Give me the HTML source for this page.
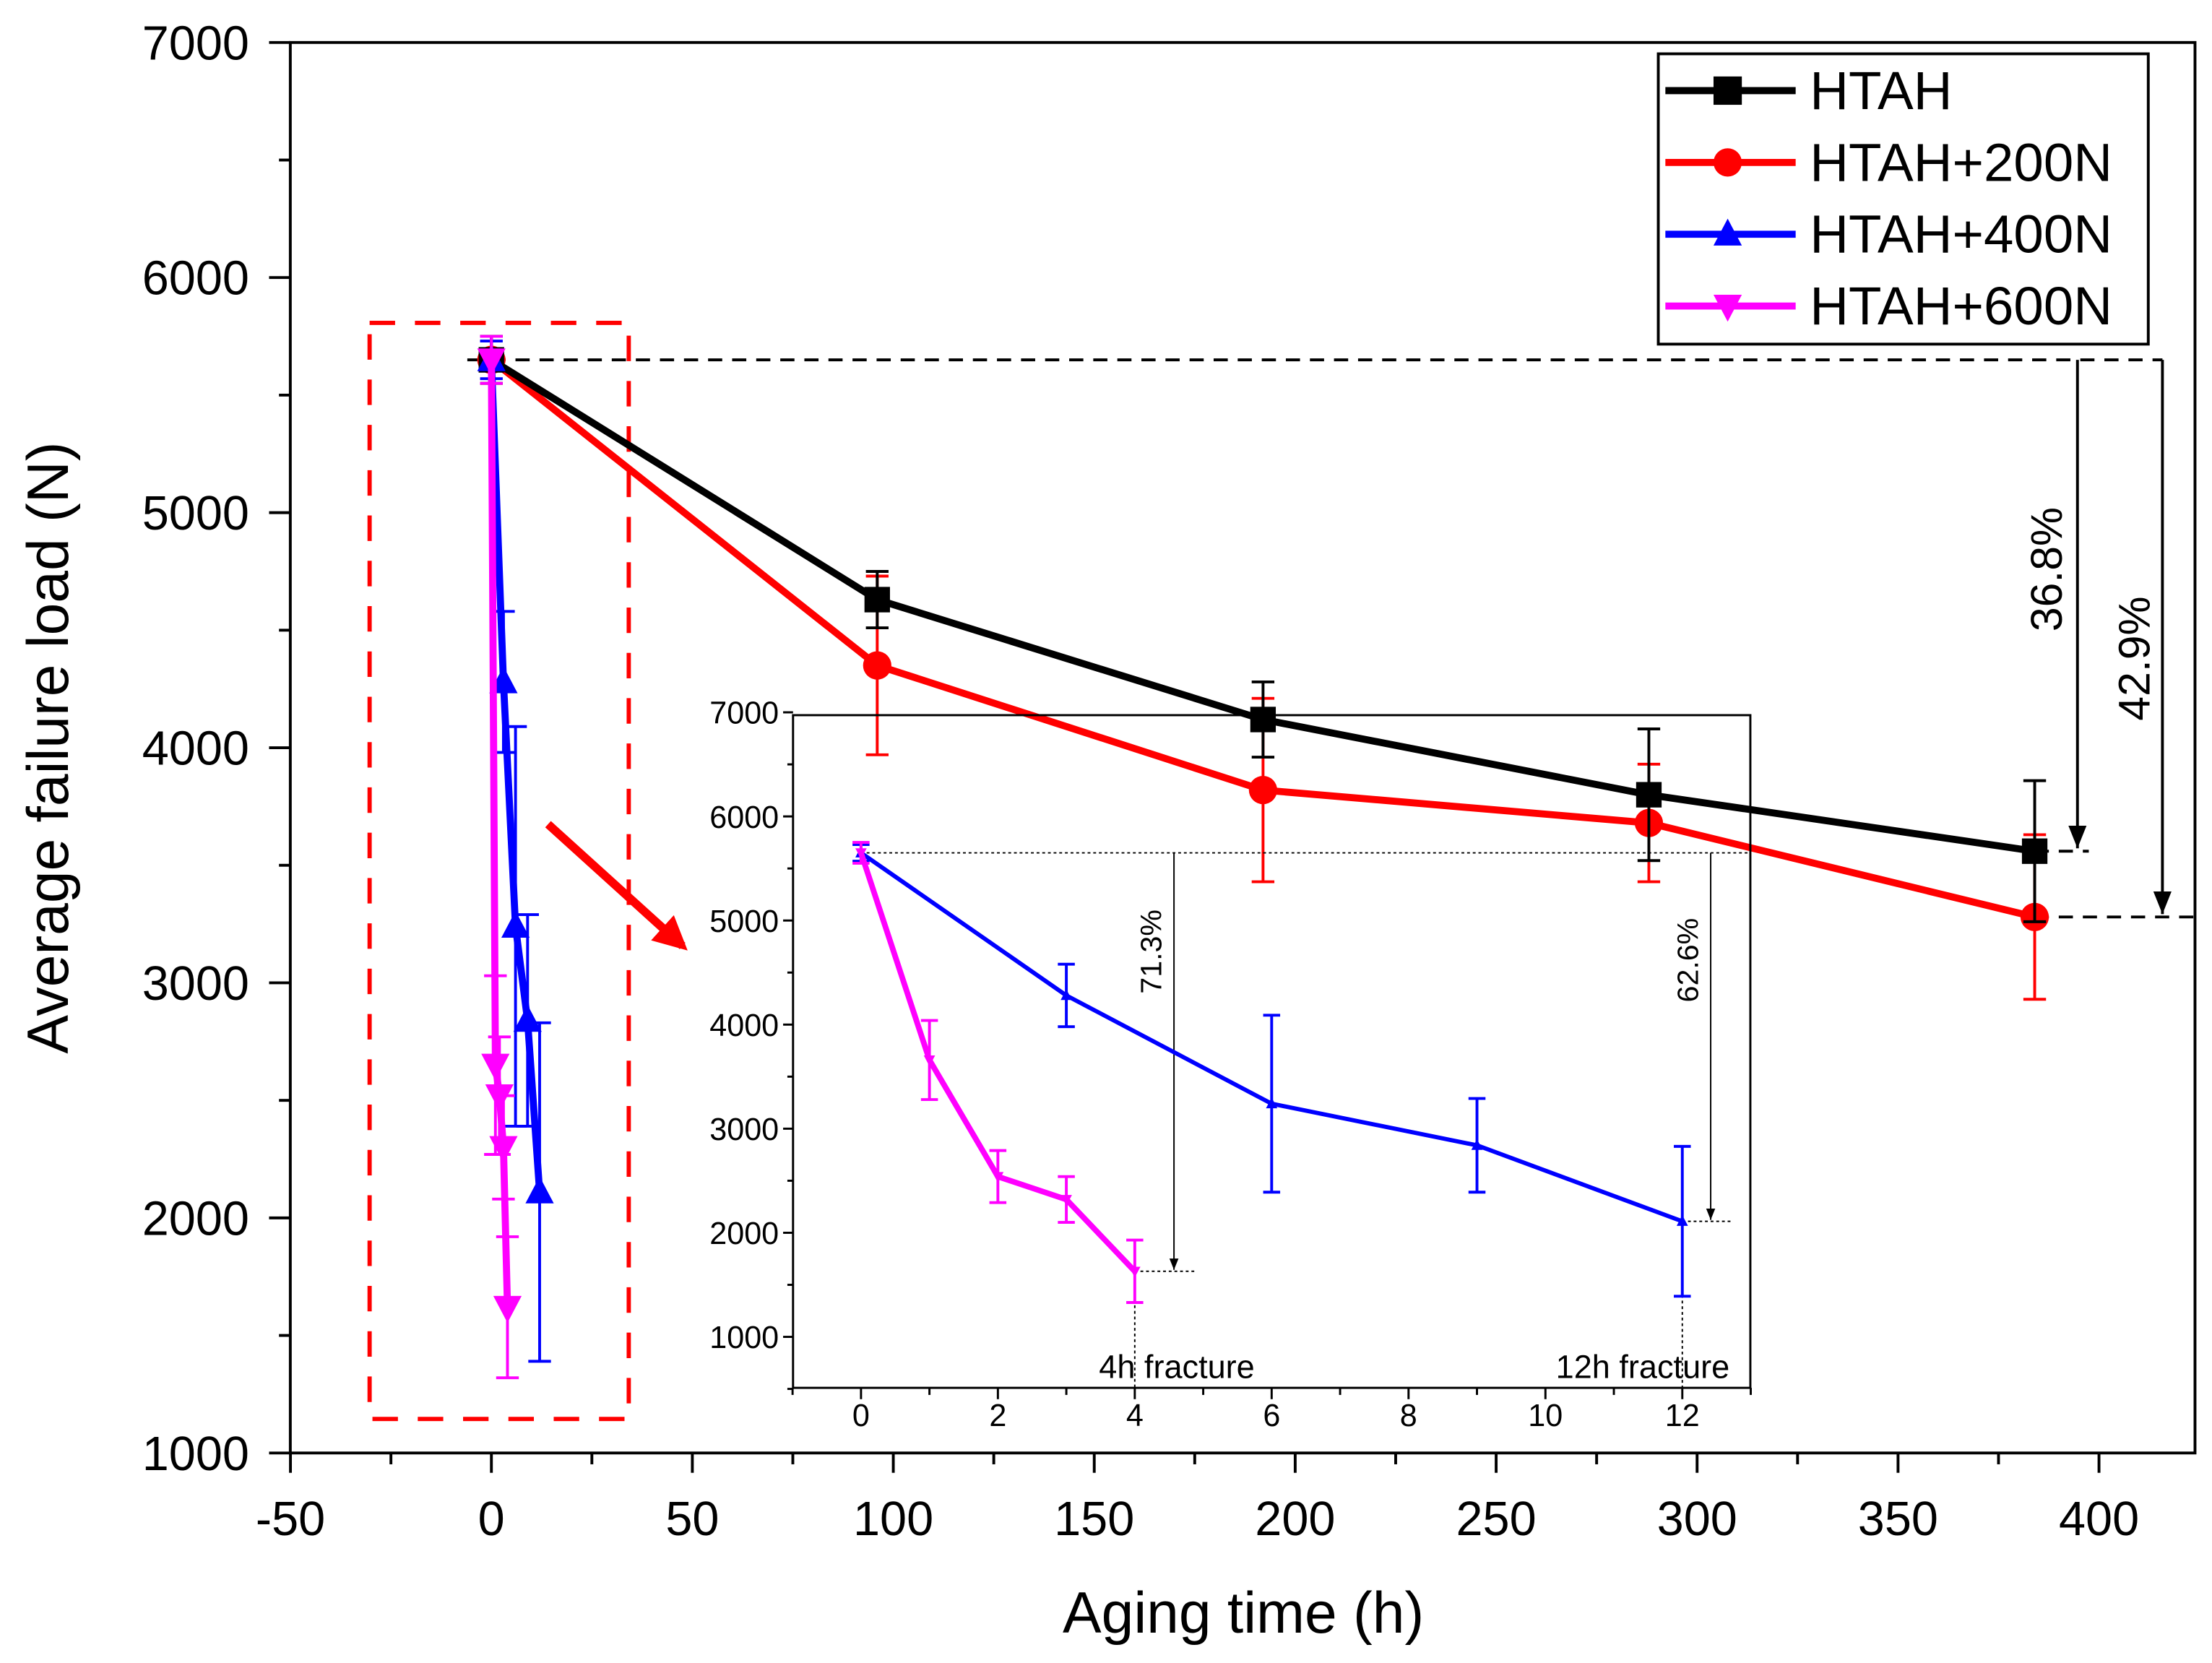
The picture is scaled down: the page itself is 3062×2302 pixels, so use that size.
<!DOCTYPE html>
<html><head><meta charset="utf-8"><style>
html,body{margin:0;padding:0;background:#fff}
svg{display:block}
text{font-family:"Liberation Sans",Arial,sans-serif}
</style></head><body>
<svg id="chart" width="3062" height="2302" viewBox="0 0 1562 1174.3" preserveAspectRatio="none" xmlns="http://www.w3.org/2000/svg">
<defs>
<marker id="ah" viewBox="0 0 10 10" refX="10" refY="5" markerWidth="8" markerHeight="8" orient="auto"><path d="M0,1 L10,5 L0,9 z" fill="#000"/></marker>
<marker id="ahr" viewBox="0 0 10 10" refX="8" refY="5" markerWidth="4" markerHeight="4" orient="auto"><path d="M0,0 L10,5 L0,10 z" fill="#f00"/></marker>
</defs>
<g id="main"></g>
<g id="inset"></g>
</svg>
<script>
const ns="http://www.w3.org/2000/svg";
// ---- data ----
const hours=[0,96,192,288,384];
const htah=[5650,4630,4120,3800,3560];
const htahErr=[100,120,160,280,300];
const h200=[5650,4350,3820,3680,3280];
const h200Err=[100,380,390,250,350];
const hours400=[0,3,6,9,12];
const h400=[5650,4280,3240,2840,2110];
const h400Err=[80,300,850,450,720];
const hours600=[0,1,2,3,4];
const h600Main=[5650,2650,2520,2300,1620];
const h600MainErr=[100,380,250,220,300];
const h600=[5650,3660,2540,2320,1630];
const h600Err=[100,380,250,220,300];
const xTicks=[-50,0,50,100,150,200,250,300,350,400];
const yTicks=[1000,2000,3000,4000,5000,6000,7000];
const insetXTicks=[0,2,4,6,8,10,12];
const insetYTicks=[1000,2000,3000,4000,5000,6000,7000];

function el(tag,attrs,parent,txt){const e=document.createElementNS(ns,tag);for(const k in attrs)e.setAttribute(k,attrs[k]);if(txt!==undefined)e.textContent=txt;parent.appendChild(e);return e;}
const main=document.getElementById('main');
const X=v=>347+(v)*2.838;
const Y=v=>1026-(v-1000)*0.166;

const fr=el('rect',{x:205,y:30,width:1345,height:996,fill:'none',stroke:'#000','stroke-width':2},main);

yTicks.forEach(t=>{
  el('line',{x1:190,x2:205,y1:Y(t),y2:Y(t),stroke:'#000','stroke-width':2},main);
  const tx=el('text',{x:176,y:Y(t)+12,'text-anchor':'end','font-size':34},main,t);
  
  if(t<7000)el('line',{x1:197,x2:205,y1:Y(t+500),y2:Y(t+500),stroke:'#000','stroke-width':2},main);
});
xTicks.forEach(t=>{
  el('line',{x1:X(t),x2:X(t),y1:1026,y2:1040,stroke:'#000','stroke-width':2},main);
  if(t<400)el('line',{x1:X(t+25),x2:X(t+25),y1:1026,y2:1034,stroke:'#000','stroke-width':2},main);
  const tx=el('text',{x:X(t),y:1084,'text-anchor':'middle','font-size':34},main,t);
  
});
let t1=el('text',{x:878,y:1153,'text-anchor':'middle','font-size':41},main,'Aging time (h)');

let t2=el('text',{x:48,y:528,'text-anchor':'middle','font-size':41,transform:'rotate(-90 48 528)'},main,'Average failure load (N)');


el('line',{x1:330,x2:1527,y1:Y(5650),y2:Y(5650),stroke:'#000','stroke-width':2,'stroke-dasharray':'10,7'},main);
el('line',{x1:1467,x2:1467,y1:Y(5650),y2:Y(htah[4])-2,stroke:'#000','stroke-width':2,'marker-end':'url(#ah)'},main);
el('line',{x1:1527,x2:1527,y1:Y(5650),y2:Y(h200[4])-2,stroke:'#000','stroke-width':2,'marker-end':'url(#ah)'},main);
el('line',{x1:X(384),x2:1475,y1:Y(htah[4]),y2:Y(htah[4]),stroke:'#000','stroke-width':2,'stroke-dasharray':'10,7'},main);
el('line',{x1:X(384),x2:1550,y1:Y(h200[4]),y2:Y(h200[4]),stroke:'#000','stroke-width':2,'stroke-dasharray':'10,7'},main);
let a1=el('text',{x:1456,y:402,'text-anchor':'middle','font-size':31,transform:'rotate(-90 1456 402)'},main,'36.8%');

let a2=el('text',{x:1518,y:465,'text-anchor':'middle','font-size':31,transform:'rotate(-90 1518 465)'},main,'42.9%');

let rr=el('rect',{x:261,y:228,width:183,height:774,fill:'none',stroke:'#f00','stroke-width':3,'stroke-dasharray':'18,14'},main);

el('line',{x1:387,y1:582,x2:482,y2:668,stroke:'#f00','stroke-width':6,'marker-end':'url(#ahr)'},main);

function marker(g,type,cx,cy,color,s){
  if(type==='sq')return el('rect',{x:cx-s,y:cy-s,width:2*s,height:2*s,fill:color},g);
  if(type==='ci')return el('circle',{cx:cx,cy:cy,r:s,fill:color},g);
  if(type==='up')return el('polygon',{points:`${cx},${cy-s*1.1} ${cx-s},${cy+s*0.8} ${cx+s},${cy+s*0.8}`,fill:color},g);
  return el('polygon',{points:`${cx},${cy+s*1.1} ${cx-s},${cy-s*0.8} ${cx+s},${cy-s*0.8}`,fill:color},g);
}
function series(parent,xs,ys,es,color,type,xf,yf,lw,ms,cap,name){
  const g=el('g',{},parent);
  
  xs.forEach((x,i)=>{const cx=xf(x);
    el('line',{x1:cx,x2:cx,y1:yf(ys[i]+es[i]),y2:yf(ys[i]-es[i]),stroke:color,'stroke-width':2},g);
    el('line',{x1:cx-cap,x2:cx+cap,y1:yf(ys[i]+es[i]),y2:yf(ys[i]+es[i]),stroke:color,'stroke-width':2},g);
    el('line',{x1:cx-cap,x2:cx+cap,y1:yf(ys[i]-es[i]),y2:yf(ys[i]-es[i]),stroke:color,'stroke-width':2},g);});
  el('polyline',{points:xs.map((x,i)=>xf(x)+','+yf(ys[i])).join(' '),fill:'none',stroke:color,'stroke-width':lw,'stroke-linejoin':'round'},g);
  xs.forEach((x,i)=>{const m=marker(g,type,xf(x),yf(ys[i]),color,ms);
    });
}
series(main,hours,h200,h200Err,'#f00','ci',X,Y,5,10,8,'series-htah-200n');
series(main,hours,htah,htahErr,'#000','sq',X,Y,5,9,8,'series-htah');
series(main,hours400,h400,h400Err,'#00f','up',X,Y,5,10,8,'series-htah-400n');
series(main,hours600,h600Main,h600MainErr,'#f0f','dn',X,Y,5,10,8,'series-htah-600n');

const lg=el('g',{},main);
el('rect',{x:1171,y:38,width:346,height:205,fill:'#fff',stroke:'#000','stroke-width':2},lg);
[['HTAH','#000','sq'],['HTAH+200N','#f00','ci'],['HTAH+400N','#00f','up'],['HTAH+600N','#f0f','dn']].forEach((d,i)=>{
  const y=64+i*50.7;const e=el('g',{},lg);
  
  el('line',{x1:1176,x2:1268,y1:y,y2:y,stroke:d[1],'stroke-width':5},e);
  marker(e,d[2],1220,y,d[1],10);
  el('text',{x:1278,y:y+13,'font-size':38},e,d[0]);
});

const ins=document.getElementById('inset');

const IX=v=>608+v*48.33;
const IY=v=>944-(v-1000)*0.0735;
el('rect',{x:560,y:505,width:676,height:475,fill:'none',stroke:'#000','stroke-width':1.5},ins);
insetYTicks.forEach(t=>{
  el('line',{x1:553,x2:560,y1:IY(t),y2:IY(t),stroke:'#000','stroke-width':1.5},ins);
  el('line',{x1:556,x2:560,y1:IY(t-500),y2:IY(t-500),stroke:'#000','stroke-width':1.5},ins);
  const tx=el('text',{x:550,y:IY(t)+8,'text-anchor':'end','font-size':22},ins,t);
  
});
insetXTicks.forEach(t=>{
  el('line',{x1:IX(t),x2:IX(t),y1:980,y2:988,stroke:'#000','stroke-width':1.5},ins);
  el('line',{x1:IX(t-1),x2:IX(t-1),y1:980,y2:985,stroke:'#000','stroke-width':1.5},ins);
  const tx=el('text',{x:IX(t),y:1007,'text-anchor':'middle','font-size':22},ins,t);
  
});
el('line',{x1:IX(13),x2:IX(13),y1:980,y2:985,stroke:'#000','stroke-width':1.5},ins);
el('line',{x1:608,x2:1236,y1:IY(5650),y2:IY(5650),stroke:'#000','stroke-width':1,'stroke-dasharray':'2,2'},ins);
el('line',{x1:829,x2:829,y1:IY(5650),y2:IY(h600[4])-1,stroke:'#000','stroke-width':1,'marker-end':'url(#ah)'},ins);
el('line',{x1:1208,x2:1208,y1:IY(5650),y2:IY(h400[4])-1,stroke:'#000','stroke-width':1,'marker-end':'url(#ah)'},ins);
el('line',{x1:IX(4),x2:845,y1:IY(h600[4]),y2:IY(h600[4]),stroke:'#000','stroke-width':1,'stroke-dasharray':'2,2'},ins);
el('line',{x1:IX(12),x2:1222,y1:IY(h400[4]),y2:IY(h400[4]),stroke:'#000','stroke-width':1,'stroke-dasharray':'2,2'},ins);
el('line',{x1:IX(4),x2:IX(4),y1:IY(h600[4]),y2:980,stroke:'#000','stroke-width':1,'stroke-dasharray':'2,2'},ins);
el('line',{x1:IX(12),x2:IX(12),y1:IY(h400[4]),y2:980,stroke:'#000','stroke-width':1,'stroke-dasharray':'2,2'},ins);
let b1=el('text',{x:820,y:672,'text-anchor':'middle','font-size':21,transform:'rotate(-90 820 672)'},ins,'71.3%');

let b2=el('text',{x:1199,y:678,'text-anchor':'middle','font-size':21,transform:'rotate(-90 1199 678)'},ins,'62.6%');

let b3=el('text',{x:831,y:973,'text-anchor':'middle','font-size':23},ins,'4h fracture');

let b4=el('text',{x:1160,y:973,'text-anchor':'middle','font-size':23},ins,'12h fracture');

series(ins,hours400,h400,h400Err,'#00f','up',IX,IY,3,4,6,'inset-series-htah-400n');
series(ins,hours600,h600,h600Err,'#f0f','dn',IX,IY,4,4,6,'inset-series-htah-600n');
</script>
</body></html>
